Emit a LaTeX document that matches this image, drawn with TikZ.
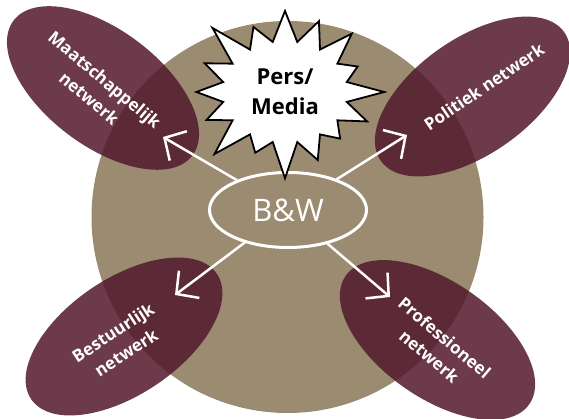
\documentclass[tikz,border=0pt]{standalone}
\usepackage{fontspec}
\setmainfont{Open Sans}
\usetikzlibrary{shapes.geometric,shapes.symbols,arrows.meta}
\definecolor{bwtan}{RGB}{155,139,112}
\definecolor{netred}{RGB}{82,24,44}

\begin{document}
\begin{tikzpicture}[x=1pt,y=1pt,
    net/.style={ellipse,fill=netred,fill opacity=.85,minimum width=224pt,minimum height=116pt,inner sep=0pt},
    netlabel/.style={text=white,font=\fontsize{17}{24}\selectfont\bfseries,align=center},
    pijl/.style={white,line width=2.5pt,line cap=round,-{Straight Barb[length=16pt,width=34pt]}}]
    \useasboundingbox (0,0) rectangle (569,419);
    \fill[bwtan] (287.5,202) circle (196);
    \node (maat) at (103,331) [net,rotate=-37] {};
    \node (pol) at (472.5,322.5) [net,rotate=35] {};
    \node (best) at (124,82.5) [net,rotate=34] {};
    \node (prof) at (437.5,79) [net,rotate=-35] {};
    \node (maatlbl) at (97,330) [netlabel,rotate=-40] {Maatschappelijk\\netwerk};
    \node (pollbl) at (484,332) [netlabel,rotate=34] {Politiek netwerk};
    \node (bestlbl) at (119.5,76.5) [netlabel,rotate=33] {Bestuurlijk\\netwerk};
    \node (proflbl) at (437,72) [netlabel,rotate=-40] {Professioneel\\netwerk};
    \node (bw) at (288,209) [ellipse,draw=white,line width=3pt,minimum width=157pt,minimum height=75pt,inner sep=0pt,text=white,font=\fontsize{31}{31}\selectfont] {B\&W};
    \node (pers) at (285,327) [starburst,starburst points=16,starburst point height=42pt,fill=white,draw=black,line width=1.8pt,minimum width=210pt,minimum height=186pt,inner sep=0pt,font=\fontsize{22}{30}\selectfont\bfseries,align=center] {Pers/\\Media};
    \coordinate (tipM) at (163,282);
    \coordinate (tipP) at (407,284);
    \coordinate (tipB) at (175,124);
    \coordinate (tipR) at (390,122);
    \draw[pijl] (bw) -- (tipM);
    \draw[pijl] (bw) -- (tipP);
    \draw[pijl] (bw) -- (tipB);
    \draw[pijl] (bw) -- (tipR);
\end{tikzpicture}
\end{document}
